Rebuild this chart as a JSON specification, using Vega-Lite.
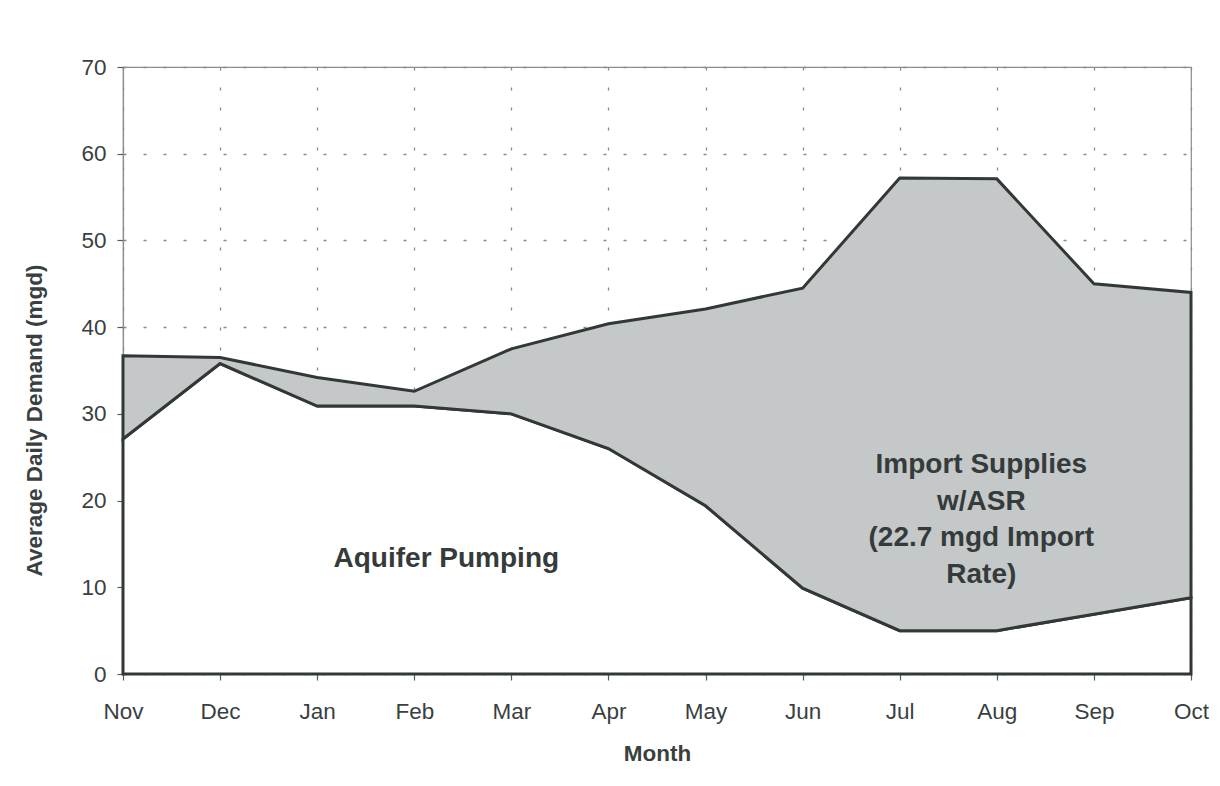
{
  "$schema": "https://vega.github.io/schema/vega-lite/v6.json",
  "width": 1068,
  "height": 607,
  "autosize": {"type": "none"},
  "padding": {"left": 123, "top": 67, "right": 29, "bottom": 112},
  "background": "white",
  "config": {
    "font": "Liberation Sans",
    "view": {"stroke": "#8c8c8c", "strokeWidth": 1.2},
    "axis": {
      "labelFont": "Liberation Sans",
      "labelFontSize": 22.5,
      "labelColor": "#3a3f3f",
      "titleFont": "Liberation Sans",
      "titleFontSize": 22.5,
      "titleFontWeight": "bold",
      "titleColor": "#3a3f3f",
      "domainColor": "#8c8c8c",
      "domainWidth": 1.2,
      "tickColor": "#555a5a",
      "tickSize": 6,
      "tickWidth": 1.2,
      "gridColor": "#858b8b",
      "gridDash": [3, 17],
      "gridWidth": 1.3
    }
  },
  "datasets": {
    "demand": [
      {"m": 0, "month": "Nov", "total": 36.7, "aquifer": 27.1},
      {"m": 1, "month": "Dec", "total": 36.5, "aquifer": 35.8},
      {"m": 2, "month": "Jan", "total": 34.2, "aquifer": 30.9},
      {"m": 3, "month": "Feb", "total": 32.6, "aquifer": 30.9},
      {"m": 4, "month": "Mar", "total": 37.5, "aquifer": 30.0},
      {"m": 5, "month": "Apr", "total": 40.4, "aquifer": 26.0},
      {"m": 6, "month": "May", "total": 42.1, "aquifer": 19.4},
      {"m": 7, "month": "Jun", "total": 44.5, "aquifer": 9.9},
      {"m": 8, "month": "Jul", "total": 57.2, "aquifer": 5.0},
      {"m": 9, "month": "Aug", "total": 57.1, "aquifer": 5.0},
      {"m": 10, "month": "Sep", "total": 45.0, "aquifer": 6.9},
      {"m": 11, "month": "Oct", "total": 44.0, "aquifer": 8.8}
    ],
    "notes": [
      {"m": 3.33, "v": 13.3, "label": ["Aquifer Pumping"]},
      {"m": 8.84, "v": 24.1, "label": ["Import Supplies", "w/ASR", "(22.7 mgd Import", "Rate)"]}
    ]
  },
  "layer": [
    {
      "data": {"name": "demand"},
      "mark": {"type": "area", "fill": "white", "stroke": "#323838", "strokeWidth": 3, "strokeJoin": "miter"},
      "encoding": {
        "x": {
          "field": "m",
          "type": "quantitative",
          "scale": {"domain": [0, 11], "nice": false, "zero": false},
          "axis": {
            "title": "Month",
            "values": [0, 1, 2, 3, 4, 5, 6, 7, 8, 9, 10, 11],
            "labelExpr": "['Nov','Dec','Jan','Feb','Mar','Apr','May','Jun','Jul','Aug','Sep','Oct'][datum.value]",
            "labelFlush": false,
            "labelOverlap": false,
            "labelPadding": 20,
            "titleY": 68,
            "grid": true
          }
        },
        "y": {
          "field": "aquifer",
          "type": "quantitative",
          "scale": {"domain": [0, 70], "nice": false},
          "axis": {
            "title": "Average Daily Demand (mgd)",
            "values": [0, 10, 20, 30, 40, 50, 60, 70],
            "labelPadding": 11,
            "titleX": -77,
            "titleY": 353,
            "grid": true
          }
        },
        "y2": {"datum": 0}
      }
    },
    {
      "data": {"name": "demand"},
      "mark": {"type": "area", "fill": "#c5c8c8", "stroke": "#323838", "strokeWidth": 3, "strokeJoin": "miter"},
      "encoding": {
        "x": {"field": "m", "type": "quantitative"},
        "y": {"field": "total", "type": "quantitative"},
        "y2": {"field": "aquifer"}
      }
    },
    {
      "data": {"name": "notes"},
      "mark": {"type": "text", "font": "Liberation Sans", "fontSize": 28, "fontWeight": "bold", "color": "#353b3b", "align": "center", "baseline": "middle", "lineHeight": 36.5},
      "encoding": {
        "x": {"field": "m", "type": "quantitative"},
        "y": {"field": "v", "type": "quantitative"},
        "text": {"field": "label"}
      }
    }
  ]
}
